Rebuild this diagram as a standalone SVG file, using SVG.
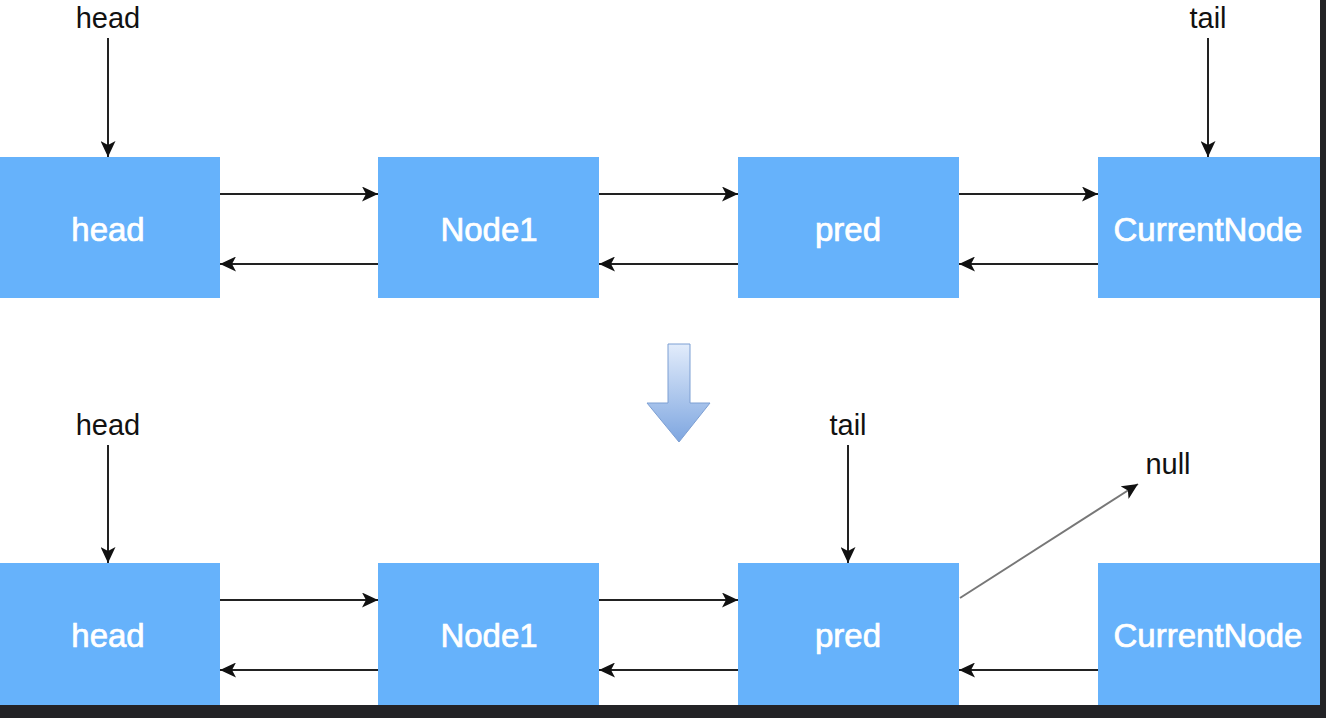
<svg xmlns="http://www.w3.org/2000/svg" width="1326" height="718" viewBox="0 0 1326 718">
<style>
.box{fill:#66b2fb;}
.bt{font-family:"Liberation Sans",Arial,sans-serif;font-size:33px;fill:#ffffff;stroke:#ffffff;stroke-width:0.7px;text-anchor:middle;}
.lb{font-family:"Liberation Sans",Arial,sans-serif;font-size:29px;fill:#111111;text-anchor:middle;}
.c{stroke:#222222;stroke-width:2;fill:none;marker-end:url(#ah);}
.g{stroke:#777777;stroke-width:2;fill:none;marker-end:url(#ah);}
</style>
<defs>
<marker id="ah" markerWidth="17" markerHeight="15" refX="16" refY="7.5" orient="auto" markerUnits="userSpaceOnUse">
<path d="M0,0 L16,7.5 L0,15 L4,7.5 Z" fill="#111111"/>
</marker>
<linearGradient id="bg" x1="0" y1="0" x2="0" y2="1">
<stop offset="0" stop-color="#e2ecfb"/>
<stop offset="1" stop-color="#7ea6e0"/>
</linearGradient>
</defs>
<rect x="0" y="0" width="1326" height="718" fill="#ffffff"/>

<g id="top-head"><rect class="box" x="0" y="157" width="220" height="141"/><text class="bt" x="108" y="241">head</text></g>
<g id="top-node1"><rect class="box" x="378" y="157" width="221" height="141"/><text class="bt" x="489" y="241">Node1</text></g>
<g id="top-pred"><rect class="box" x="738" y="157" width="221" height="141"/><text class="bt" x="848" y="241">pred</text></g>
<g id="top-current"><rect class="box" x="1098" y="157" width="222" height="141"/><text class="bt" x="1208" y="241">CurrentNode</text></g>

<g id="bot-head"><rect class="box" x="0" y="563" width="220" height="142"/><text class="bt" x="108" y="647">head</text></g>
<g id="bot-node1"><rect class="box" x="378" y="563" width="221" height="142"/><text class="bt" x="489" y="647">Node1</text></g>
<g id="bot-pred"><rect class="box" x="738" y="563" width="221" height="142"/><text class="bt" x="848" y="647">pred</text></g>
<g id="bot-current"><rect class="box" x="1098" y="563" width="222" height="142"/><text class="bt" x="1208" y="647">CurrentNode</text></g>

<g id="labels">
<text class="lb" x="108" y="28">head</text>
<text class="lb" x="1208" y="28">tail</text>
<text class="lb" x="108" y="435">head</text>
<text class="lb" x="848" y="435">tail</text>
<text class="lb" x="1168" y="474">null</text>
</g>

<g id="connectors">
<line class="c" x1="108" y1="38" x2="108" y2="157"/>
<line class="c" x1="1208" y1="38" x2="1208" y2="157"/>
<line class="c" x1="220" y1="194" x2="378" y2="194"/>
<line class="c" x1="378" y1="264" x2="220" y2="264"/>
<line class="c" x1="599" y1="194" x2="738" y2="194"/>
<line class="c" x1="738" y1="264" x2="599" y2="264"/>
<line class="c" x1="959" y1="194" x2="1098" y2="194"/>
<line class="c" x1="1098" y1="264" x2="959" y2="264"/>

<line class="c" x1="108" y1="445" x2="108" y2="563"/>
<line class="c" x1="848" y1="445" x2="848" y2="563"/>
<line class="c" x1="220" y1="600" x2="378" y2="600"/>
<line class="c" x1="378" y1="670" x2="220" y2="670"/>
<line class="c" x1="599" y1="600" x2="738" y2="600"/>
<line class="c" x1="738" y1="670" x2="599" y2="670"/>
<line class="c" x1="1098" y1="670" x2="959" y2="670"/>
<line class="g" x1="960" y1="598" x2="1138" y2="484"/>
</g>

<g id="big-arrow">
<path d="M668,344 L690,344 L690,403 L710,403 L679,442 L647,403 L668,403 Z" fill="url(#bg)" stroke="#7d9fd3" stroke-width="1"/>
</g>

<rect x="1320" y="0" width="6" height="718" fill="#232326"/>
<rect x="0" y="705" width="1326" height="13" fill="#232326"/>
</svg>
